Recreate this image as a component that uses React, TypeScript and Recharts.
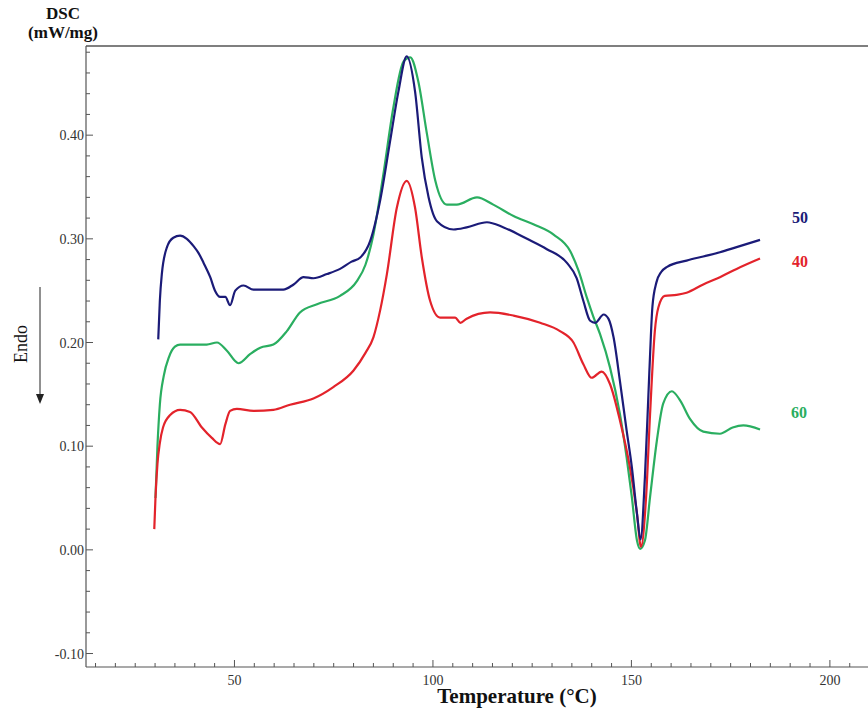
import { LineChart, Line, XAxis, YAxis, ReferenceLine } from 'recharts';

// ---------------------------------------------------------------------------
// data
// ---------------------------------------------------------------------------

const temp50 = [
  30.8, 31.2, 31.7, 33.0, 34.6, 36.3, 38.0, 39.7, 41.0, 42.2, 43.9, 45.1, 46.4, 47.7, 48.9, 50.2,
  52.3, 54.8, 58.2, 62.3, 64.9, 67.4, 69.9, 73.3, 76.6, 79.5, 81.7, 84.2, 86.7, 89.2, 91.3, 93.4,
  95.5, 97.2, 98.9, 101.0, 105.2, 108.5, 113.6, 117.8, 123.7, 128.7, 133.7, 136.2, 137.9, 139.6,
  140.9, 143.0, 144.2, 145.5, 147.1, 148.8, 150.1, 151.4, 152.3, 153.4, 154.5, 155.3, 156.3, 157.5,
  159.0, 163.9, 168.1, 172.3, 176.5, 182.4,
];
const dsc50 = [
  0.203, 0.24, 0.266, 0.292, 0.301, 0.303, 0.300, 0.293, 0.286, 0.277, 0.263, 0.25, 0.244, 0.244,
  0.236, 0.25, 0.255, 0.251, 0.251, 0.251, 0.256, 0.263, 0.262, 0.266, 0.271, 0.278, 0.282, 0.298,
  0.337, 0.394, 0.442, 0.476, 0.442, 0.378, 0.34, 0.317, 0.309, 0.311, 0.316, 0.311, 0.3, 0.29,
  0.277, 0.262, 0.24, 0.221, 0.219, 0.227, 0.223, 0.205, 0.163, 0.115, 0.08, 0.035, 0.01, 0.07,
  0.17, 0.235, 0.258, 0.268, 0.273, 0.279, 0.283, 0.287, 0.292, 0.299,
];

const temp40 = [
  29.8, 30.1, 30.6, 31.2, 32.0, 33.8, 36.3, 38.8, 41.8, 44.3, 46.4, 47.7, 48.9, 50.6, 54.8, 59.8,
  64.0, 69.9, 74.9, 80.0, 83.0, 85.0, 86.7, 88.4, 90.9, 93.4, 95.5, 97.2, 99.3, 101.8, 105.6, 106.9,
  108.5, 114.4, 120.3, 127.0, 132.0, 135.4, 137.9, 140.0, 142.5, 144.6, 147.1, 149.6, 151.4, 152.4,
  153.7, 154.7, 155.9, 156.8, 158.4, 161.4, 163.9, 168.1, 172.3, 176.5, 182.4,
];
const dsc40 = [
  0.02, 0.05, 0.083, 0.103, 0.118, 0.13, 0.135, 0.133, 0.118, 0.108, 0.102, 0.121, 0.134, 0.136,
  0.134, 0.135, 0.14, 0.146, 0.157, 0.173, 0.19, 0.205, 0.231, 0.266, 0.33, 0.356, 0.33, 0.282,
  0.24, 0.224, 0.224, 0.219, 0.223, 0.229, 0.226, 0.219, 0.211, 0.2, 0.179, 0.166, 0.172, 0.16,
  0.125, 0.08, 0.035, 0.003, 0.051, 0.131, 0.211, 0.234, 0.245, 0.246, 0.248, 0.256, 0.263, 0.271,
  0.281,
];

const temp60 = [
  30.1, 30.6, 31.2, 32.2, 33.5, 35.0, 36.3, 39.7, 43.0, 45.6, 48.1, 51.0, 54.0, 56.5, 59.8, 63.2,
  66.5, 70.8, 76.6, 80.8, 83.0, 85.0, 87.5, 90.0, 92.6, 94.3, 96.3, 98.5, 100.6, 103.5, 106.0,
  111.1, 115.2, 120.3, 125.3, 130.4, 134.6, 136.7, 138.8, 140.4, 142.1, 144.6, 147.1, 148.8, 150.1,
  151.4, 152.2, 153.4, 154.7, 156.4, 158.0, 160.2, 162.3, 164.8, 168.1, 172.3, 175.5, 178.2, 182.4,
];
const dsc60 = [
  0.05, 0.1, 0.14, 0.168, 0.186, 0.196, 0.198, 0.198, 0.198, 0.2, 0.192, 0.18, 0.189, 0.195, 0.198,
  0.211, 0.229, 0.237, 0.245, 0.259, 0.275, 0.304, 0.362, 0.426, 0.471, 0.475, 0.452, 0.401, 0.356,
  0.333, 0.333, 0.34, 0.333, 0.322, 0.314, 0.304, 0.288, 0.269, 0.243, 0.225, 0.208, 0.176, 0.131,
  0.089, 0.051, 0.009, 0.001, 0.009, 0.051, 0.105, 0.141, 0.153, 0.144, 0.126, 0.114, 0.112, 0.118,
  0.12, 0.116,
];

const xTicks = Array.from({ length: 39 }, (_, i) => 15 + i * 5);
const xLabels = [50, 100, 150, 200];
const yTicks = Array.from({ length: 30 }, (_, i) => Math.round((-0.1 + i * 0.02) * 100) / 100);
const yLabels = [-0.1, 0, 0.1, 0.2, 0.3, 0.4];

const X_DOMAIN: [number, number] = [12.6, 209.6];
const Y_DOMAIN: [number, number] = [-0.113, 0.486];

const zip = (t: number[], v: number[]) => t.map((x, i) => ({ t: x, v: v[i] }));
const data50 = zip(temp50, dsc50);
const data40 = zip(temp40, dsc40);
const data60 = zip(temp60, dsc60);

const BLUE = '#1b1b78';
const RED = '#e3232b';
const GREEN = '#2aae60';
const AXIS = '#555';
const SERIF = '"Liberation Serif", "DejaVu Serif", serif';

// ---------------------------------------------------------------------------
// ticks drawn inward
// ---------------------------------------------------------------------------

function XTick(props: any) {
  const { x, y, payload } = props;
  const major = xLabels.includes(payload.value);
  return (
    <g>
      <line x1={x} x2={x} y1={y} y2={y - (major ? 7 : 4)} stroke={AXIS} strokeWidth={1} />
      {major && (
        <text x={x} y={y + 18} textAnchor="middle" fontSize={14} fontFamily={SERIF} fill="#333">
          {payload.value}
        </text>
      )}
    </g>
  );
}

function YTick(props: any) {
  const { x, y, payload } = props;
  const major = yLabels.some((l) => Math.abs(l - payload.value) < 1e-6);
  return (
    <g>
      <line x1={x} x2={x + (major ? 7 : 4)} y1={y} y2={y} stroke={AXIS} strokeWidth={1} />
      {major && (
        <text x={x - 2} y={y + 5} textAnchor="end" fontSize={14} fontFamily={SERIF} fill="#333">
          {payload.value.toFixed(2)}
        </text>
      )}
    </g>
  );
}

const seriesLabel = (text: string, color: string, left: number, top: number) => (
  <div
    style={{
      position: 'absolute',
      left,
      top,
      color,
      fontFamily: SERIF,
      fontWeight: 'bold',
      fontSize: 16,
      lineHeight: '16px',
    }}
  >
    {text}
  </div>
);

export default function App() {
  return (
    <div style={{ position: 'absolute', left: 0, top: 0, width: 868, height: 713, background: '#fff' }}>
      <LineChart width={868} height={713} margin={{ top: 46, right: 0, bottom: 16, left: 26 }}>
        <XAxis
          type="number"
          dataKey="t"
          domain={X_DOMAIN}
          ticks={xTicks}
          allowDataOverflow
          height={30}
          tickSize={0}
          tickMargin={0}
          tickLine={false}
          axisLine={{ stroke: AXIS, strokeWidth: 1.2 }}
          tick={<XTick />}
          interval={0}
        />
        <YAxis
          type="number"
          dataKey="v"
          domain={Y_DOMAIN}
          ticks={yTicks}
          allowDataOverflow
          width={60}
          tickSize={0}
          tickMargin={0}
          tickLine={false}
          axisLine={{ stroke: AXIS, strokeWidth: 1.2 }}
          tick={<YTick />}
          interval={0}
        />
        <ReferenceLine y={Y_DOMAIN[1]} stroke={AXIS} strokeWidth={1.5} />
        <Line data={data60} dataKey="v" type="monotone" stroke={GREEN} strokeWidth={2.2} dot={false} isAnimationActive={false} />
        <Line data={data40} dataKey="v" type="monotone" stroke={RED} strokeWidth={2.2} dot={false} isAnimationActive={false} />
        <Line data={data50} dataKey="v" type="monotone" stroke={BLUE} strokeWidth={2.2} dot={false} isAnimationActive={false} />
      </LineChart>

      <div
        style={{
          position: 'absolute',
          left: 20,
          top: 4,
          width: 86,
          textAlign: 'center',
          fontFamily: SERIF,
          fontWeight: 'bold',
          fontSize: 17,
          lineHeight: '19px',
          color: '#111',
        }}
      >
        DSC
        <br />
        (mW/mg)
      </div>

      <div
        style={{
          position: 'absolute',
          left: 21,
          top: 344,
          transform: 'translate(-50%, -50%) rotate(-90deg)',
          fontFamily: SERIF,
          fontSize: 18,
          color: '#111',
          whiteSpace: 'nowrap',
        }}
      >
        Endo
      </div>
      <svg style={{ position: 'absolute', left: 30, top: 284 }} width={20} height={124}>
        <line x1={10} y1={3} x2={10} y2={112} stroke="#222" strokeWidth={1} />
        <polygon points="6,110 14,110 10,120" fill="#222" />
      </svg>

      <div
        style={{
          position: 'absolute',
          left: 0,
          width: 1034,
          top: 684,
          textAlign: 'center',
          fontFamily: SERIF,
          fontWeight: 'bold',
          fontSize: 21,
          color: '#111',
        }}
      >
        Temperature (°C)
      </div>

      {seriesLabel('50', BLUE, 792, 210)}
      {seriesLabel('40', RED, 792, 254)}
      {seriesLabel('60', GREEN, 791, 405)}
    </div>
  );
}
